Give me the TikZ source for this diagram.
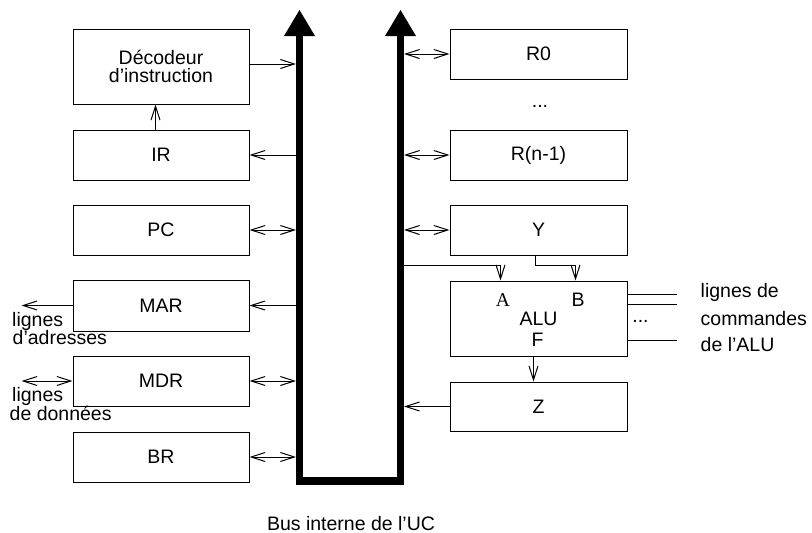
\documentclass[tikz,border=0pt]{standalone}
\usepackage{fontspec}
\setmainfont{Liberation Sans}
\newfontfamily\serifA{Liberation Serif}
\usetikzlibrary{arrows.meta,calc}
\begin{document}
\begin{tikzpicture}[x=1pt,y=-1pt,
  font=\fontsize{19.5}{18.5}\selectfont,
  box/.style={draw,line width=1pt,inner sep=0pt,minimum width=176pt,minimum height=50pt,align=center},
  rbox/.style={box,minimum width=177pt},
  txt/.style={inner sep=0pt},
  conn/.style={line width=1pt},
  arr/.style={conn,-{Straight Barb[length=14pt,width=9pt]}},
  darr/.style={conn,{Straight Barb[length=14pt,width=9pt]}-{Straight Barb[length=14pt,width=9pt]}},
  bus/.style={line width=7.5pt,line join=miter}]
\useasboundingbox (0,0) rectangle (812,533);
% boxes
\node[box,minimum height=75pt] (dec) at (161,66.5) {Décodeur\\d’instruction};
\node[box] (ir) at (161,155) {IR};
\node[box] (pc) at (161,230) {PC};
\node[box,minimum height=51pt] (mar) at (161,305.5) {MAR};
\node[box] (mdr) at (161,381) {MDR};
\node[box] (brg) at (161,457) {BR};
\node[rbox] (r0) at (538.5,54) {R0};
\node[rbox] (rn) at (538.5,155) {R(n-1)};
\node[rbox] (ry) at (538.5,230) {Y};
\node[rbox,minimum height=75pt] (alu) at (538.5,318.5) {ALU};
\node[rbox,minimum height=49pt] (z) at (538.5,406.5) {Z};
% bus
\coordinate (busl) at (296,0);
\coordinate (busr) at (404,0);
\draw[bus] (299.5,35) -- (299.5,481) -- (400.5,481) -- (400.5,35);
\fill (284,36) -- (315,36) -- (299.5,10) -- cycle;
\fill (385,36) -- (416,36) -- (400.5,10) -- cycle;
% left connectors
\coordinate (d1) at ($(dec.east)+(0,-2.5)$);
\draw[arr] (d1) -- (d1 -| busl);
\draw[arr] (ir.east -| busl) -- (ir.east);
\coordinate (i1) at ($(ir.north)+(-5.5,0)$);
\draw[arr] (i1) -- (i1 |- dec.south);
\draw[darr] (pc.east) -- (pc.east -| busl);
\draw[arr] (mar.east -| busl) -- (mar.east);
\coordinate (adr) at (21.5,305.5);
\draw[arr] (mar.west) -- (adr);
\draw[darr] (mdr.east) -- (mdr.east -| busl);
\coordinate (don) at (21.5,381);
\draw[darr] (don) -- (mdr.west);
\draw[darr] (brg.east) -- (brg.east -| busl);
% right connectors
\draw[darr] (busr |- r0.west) -- (r0.west);
\draw[darr] (busr |- rn.west) -- (rn.west);
\draw[darr] (busr |- ry.west) -- (ry.west);
\coordinate (hl) at (0,265);
\coordinate (ina) at ($(alu.north west)+(51,0)$);
\coordinate (inb) at ($(alu.north west)+(126,0)$);
\coordinate (yb) at ($(ry.south west)+(86,0)$);
\draw[arr] (busr |- hl) -- (ina |- hl) -- (ina);
\draw[arr] (yb) -- (yb |- hl) -- (inb |- hl) -- (inb);
\coordinate (fo) at ($(alu.south west)+(84,0)$);
\draw[arr] (fo) -- (fo |- z.north);
\draw[arr] (z.west) -- (z.west -| busr);
% command lines
\coordinate (c1) at (677,294.5);
\coordinate (c2) at (677,304.5);
\coordinate (c3) at (677,340);
\draw[conn] (c1 -| alu.east) -- (c1);
\draw[conn] (c2 -| alu.east) -- (c2);
\draw[conn] (c3 -| alu.east) -- (c3);
% labels
\node[txt,anchor=base,font=\fontsize{19.5}{18.5}\selectfont\serifA] (la) at (503,306) {A};
\node[txt,anchor=base] (lb) at (578,306) {B};
\node[txt,anchor=base] (lf) at (537.5,346) {F};
\node[txt,anchor=base] (dots1) at (540,107) {...};
\node[txt,anchor=base] (dots2) at (640.5,322) {...};
\node[txt,anchor=base west] (t1) at (12,326.5) {lignes};
\node[txt,anchor=base west] (t2) at (12.5,344.5) {d’adresses};
\node[txt,anchor=base west] (t3) at (12,401.5) {lignes};
\node[txt,anchor=base west] (t4) at (9.5,420) {de données};
\node[txt,anchor=base west] (t5) at (700.5,297) {lignes de};
\node[txt,anchor=base west] (t6) at (700.5,325.5) {commandes};
\node[txt,anchor=base west] (t7) at (700.5,351.5) {de l’ALU};
\node[txt,anchor=base] (t8) at (351,530.5) {Bus interne de l’UC};
\end{tikzpicture}
\end{document}
